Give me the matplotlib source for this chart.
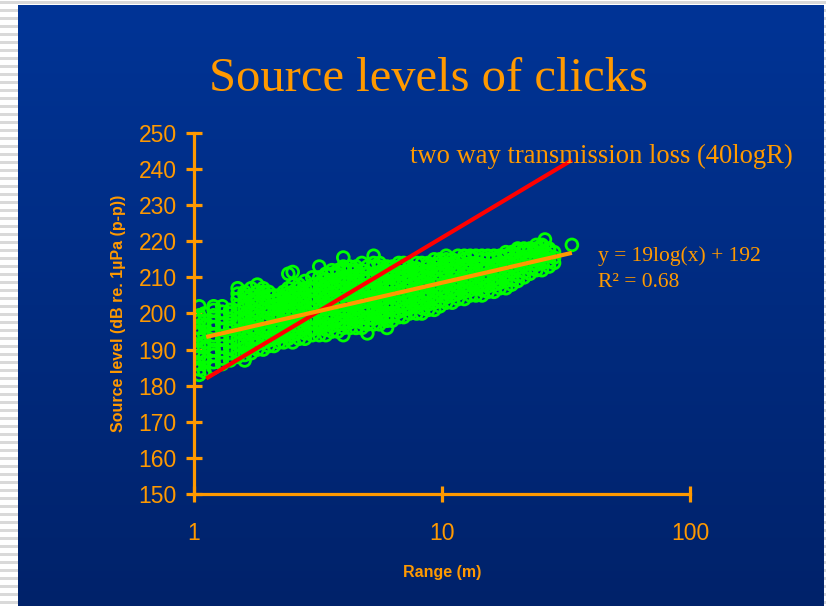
import matplotlib
matplotlib.use('agg')
import matplotlib.pyplot as plt
import numpy as np
from matplotlib.colors import LinearSegmentedColormap

# click source levels, grouped by range column
col_ranges = [1.05, 1.1, 1.2, 1.3, 1.4, 1.5, 1.6, 1.7, 1.8, 1.9,
              2.0, 2.1, 2.2, 2.3, 2.4, 2.5, 2.65, 2.8, 3.0, 3.2,
              3.4, 3.6, 3.8, 4.0, 4.25, 4.5, 4.75, 5.0, 5.3, 5.6,
              6.0, 6.3, 6.7, 7.0, 7.4, 7.9, 8.3, 8.8, 9.3, 9.8,
              10.4, 11.0, 11.6, 12.3, 13.0, 13.7, 14.5, 15.3, 16.2, 17.1,
              18.1, 19.1, 20.2, 21.4, 22.6, 24.0, 25.3, 26.0, 27.0, 28.3,
              33.4]
col_levels = [
    [183, 184.5, 186, 188, 189.5, 191, 193, 194.5, 196, 198, 199.5, 202],
    [184, 186.5, 188, 190.5, 192, 194, 196.5, 198, 200],
    [185, 186.5, 188.5, 190, 192.5, 194, 196, 197.5, 199.5, 201, 202],
    [186, 187.5, 189.5, 191, 193, 195.5, 197, 199, 200.5, 202],
    [187, 189, 190.5, 192.5, 194, 196, 198.5, 200, 201],
    [188, 189.5, 191.5, 193, 195, 197, 198.5, 200.5, 202, 204, 205.5, 207],
    [187, 188.5, 190.5, 192, 194, 196.5, 198, 199.5, 201.5, 203, 205, 206],
    [189, 190.5, 192.5, 194.5, 196, 198, 200, 201.5, 203.5, 205, 207],
    [190, 191.5, 193, 195, 197, 199, 200.5, 202.5, 204, 206, 208],
    [190, 192, 193.5, 195.5, 197.5, 199, 201, 203, 204.5, 206, 207],
    [191, 192.5, 194.5, 196, 198, 200, 201.5, 203.5, 205, 206],
    [191, 193, 194.5, 196.5, 198.5, 200, 202, 203.5, 205],
    [192, 193.5, 195.5, 197, 199, 201, 202.5, 204, 205],
    [192, 194, 195.5, 197.5, 199.5, 201, 203, 204.5, 206],
    [193, 194.5, 196.5, 198, 200, 202, 203.5, 205.5, 207, 211],
    [192, 194, 195.5, 197.5, 199, 201, 203, 204.5, 206, 208, 211.5],
    [193, 195, 196.5, 198.5, 200, 202, 204, 205.5, 207, 208],
    [193, 194.5, 196, 198, 200, 201.5, 203.5, 205, 207, 209],
    [194, 195.5, 197.5, 199, 201, 203, 204.5, 206.5, 208, 210],
    [194, 196, 197.5, 199.5, 201, 203, 205, 206.5, 208.5, 210, 213],
    [194, 195.5, 197, 199, 201, 202.5, 204.5, 206, 208, 209.5, 211],
    [195, 196.5, 198.5, 200, 202, 204, 205.5, 207.5, 209, 211, 212],
    [195, 197, 198.5, 200.5, 202, 204, 206, 207.5, 209.5, 211, 212],
    [194, 196, 197.5, 199.5, 201, 203, 205, 206.5, 208.5, 210, 212, 213, 215.5],
    [196, 197.5, 199.5, 201, 203, 205, 206.5, 208.5, 210, 212, 213],
    [196, 198, 199.5, 201.5, 203, 205, 207, 208.5, 210.5, 212, 213],
    [196, 197.5, 199, 201, 203, 204.5, 206.5, 208, 210, 212, 214],
    [194.5, 197, 198.5, 200.5, 202, 204, 206, 207.5, 209.5, 211, 213],
    [197, 198.5, 200.5, 202, 204, 206, 207.5, 209.5, 211, 213, 214, 216],
    [197, 199, 200.5, 202.5, 204, 206, 208, 209.5, 211.5, 213, 214],
    [196, 198, 199.5, 201.5, 203, 205, 207, 208.5, 210.5, 212, 213],
    [198, 199.5, 201.5, 203, 205, 207, 208.5, 210.5, 212, 213],
    [199, 200.5, 202.5, 204, 206, 208, 209.5, 211.5, 213, 214],
    [199, 201, 202.5, 204.5, 206, 208, 210, 211.5, 213, 214],
    [200, 201.5, 203.5, 205, 207, 209, 210.5, 212, 213],
    [200, 202, 203.5, 205.5, 207, 209, 211, 212.5, 214],
    [200, 201.5, 203, 205, 207, 208.5, 210.5, 212, 214],
    [201, 202.5, 204.5, 206, 208, 210, 211.5, 213, 214],
    [201, 203, 204.5, 206.5, 208, 210, 212, 213.5, 215],
    [202, 203.5, 205.5, 207, 209, 211, 212.5, 214, 215],
    [203, 204.5, 206, 208, 210, 211.5, 213.5, 215, 216],
    [203, 205, 206.5, 208.5, 210, 212, 214, 215],
    [204, 205.5, 207.5, 209, 211, 213, 214.5, 216],
    [204, 206, 207.5, 209.5, 211, 213, 215, 216],
    [205, 206.5, 208.5, 210, 212, 214, 215.5, 216],
    [205, 207, 208.5, 210.5, 212, 214, 216],
    [205, 206.5, 208, 210, 212, 213.5, 215, 216],
    [206, 207.5, 209.5, 211, 213, 215, 216],
    [206, 208, 209.5, 211.5, 213, 215, 216],
    [207, 208.5, 210.5, 212, 214, 215.5, 216],
    [207, 209, 210.5, 212.5, 214, 216, 217],
    [208, 209.5, 211.5, 213, 215, 216.5, 217],
    [209, 210.5, 212.5, 214, 216, 217.5, 218],
    [210, 211.5, 213.5, 215, 217, 218],
    [211, 212.5, 214.5, 216, 217.5, 218],
    [212, 213.5, 215, 217, 218, 219],
    [212, 214, 215.5, 217, 218.5, 219],
    [220.5],
    [213, 214.5, 216, 217.5, 218],
    [214, 215.5, 217],
    [219],
]

# regression line and 40logR reference line (end points as drawn on the slide)
fit_range = [1.12, 33.4]
fit_level = [193.5, 216.8]
tl_range = [1.12, 33.4]
tl_level = [182.0, 242.5]

x_ticks = [1, 10, 100]
y_ticks = list(range(150, 251, 10))

ORANGE = '#FF9900'
GREEN = '#00FF00'

W, H = 826, 606
fig = plt.figure(figsize=(W / 100, H / 100), dpi=100)

# slide background: striped margin + blue gradient panel
bg = fig.add_axes([0, 0, 1, 1], zorder=-1)
bg.axis('off')
bg.add_patch(plt.Rectangle((0, 0), W, H, color='white', zorder=0))
for yy in range(1, H, 8):
    bg.add_patch(plt.Rectangle((0, yy), 18, 2.5, color='#d9d9d9', lw=0, zorder=1))
    bg.add_patch(plt.Rectangle((824, yy), 2, 2.5, color='#d9d9d9', lw=0, zorder=1))
bg.add_patch(plt.Rectangle((0, 1), W, 2.5, color='#d9d9d9', lw=0, zorder=1))
cmap = LinearSegmentedColormap.from_list('slide', ['#003496', '#00226a'])
grad = np.linspace(0, 1, 256).reshape(-1, 1)
bg.imshow(grad, cmap=cmap, extent=(18, 824, H, 5), aspect='auto', zorder=2)
bg.set_xlim(0, W)
bg.set_ylim(H, 0)

fig.text(428 / W, 1 - 79 / H, 'Source levels of clicks', color=ORANGE,
         family='Liberation Serif', fontsize=35, ha='center', va='center')

ax = fig.add_axes([194 / W, (H - 494) / H, 496 / W, 361 / H])
ax.set_facecolor('none')

xs, ys = [], []
for r, lv in zip(col_ranges, col_levels):
    for v in lv:
        xs.append(r)
        ys.append(v)
ax.scatter(xs, ys, s=72, facecolors='none', edgecolors=GREEN, linewidths=2.0, zorder=2)
ax.plot(tl_range, tl_level, color='#FF0000', lw=3, solid_capstyle='butt', zorder=3)
ax.plot(fit_range, fit_level, color=ORANGE, lw=3, solid_capstyle='butt', zorder=4)

ax.set_xscale('log')
ax.set_xlim(1, 100)
ax.set_ylim(150, 250)
ax.set_xticks(x_ticks)
ax.set_xticklabels([str(t) for t in x_ticks])
ax.xaxis.set_minor_locator(matplotlib.ticker.NullLocator())
ax.set_yticks(y_ticks)

for side in ['top', 'right']:
    ax.spines[side].set_visible(False)
for side in ['left', 'bottom']:
    ax.spines[side].set_color(ORANGE)
    ax.spines[side].set_linewidth(2.3)
ax.tick_params(axis='both', direction='inout', length=11, width=2.3, color=ORANGE,
               labelcolor=ORANGE, labelsize=16.5)
ax.tick_params(axis='x', pad=15)
ax.tick_params(axis='y', pad=7)
for lab in ax.get_xticklabels() + ax.get_yticklabels():
    lab.set_family('Liberation Sans')

ax.set_xlabel('Range (m)', color=ORANGE, fontsize=11.5, fontweight='bold',
              family='Liberation Sans', labelpad=14)
ax.set_ylabel('Source level (dB re. 1µPa (p-p))', color=ORANGE, fontsize=11.5,
              fontweight='bold', family='Liberation Sans', labelpad=9)

ax.text(7.43, 243.4, 'two way transmission loss (40logR)', color=ORANGE,
        family='Liberation Serif', fontsize=19.2, ha='left', va='center')
ax.text(42.6, 215.9, 'y = 19log(x) + 192', color=ORANGE,
        family='Liberation Serif', fontsize=15.5, ha='left', va='center')
ax.text(42.6, 208.7, 'R² = 0.68', color=ORANGE,
        family='Liberation Serif', fontsize=15.5, ha='left', va='center')

fig.savefig('out.png', dpi=100)
